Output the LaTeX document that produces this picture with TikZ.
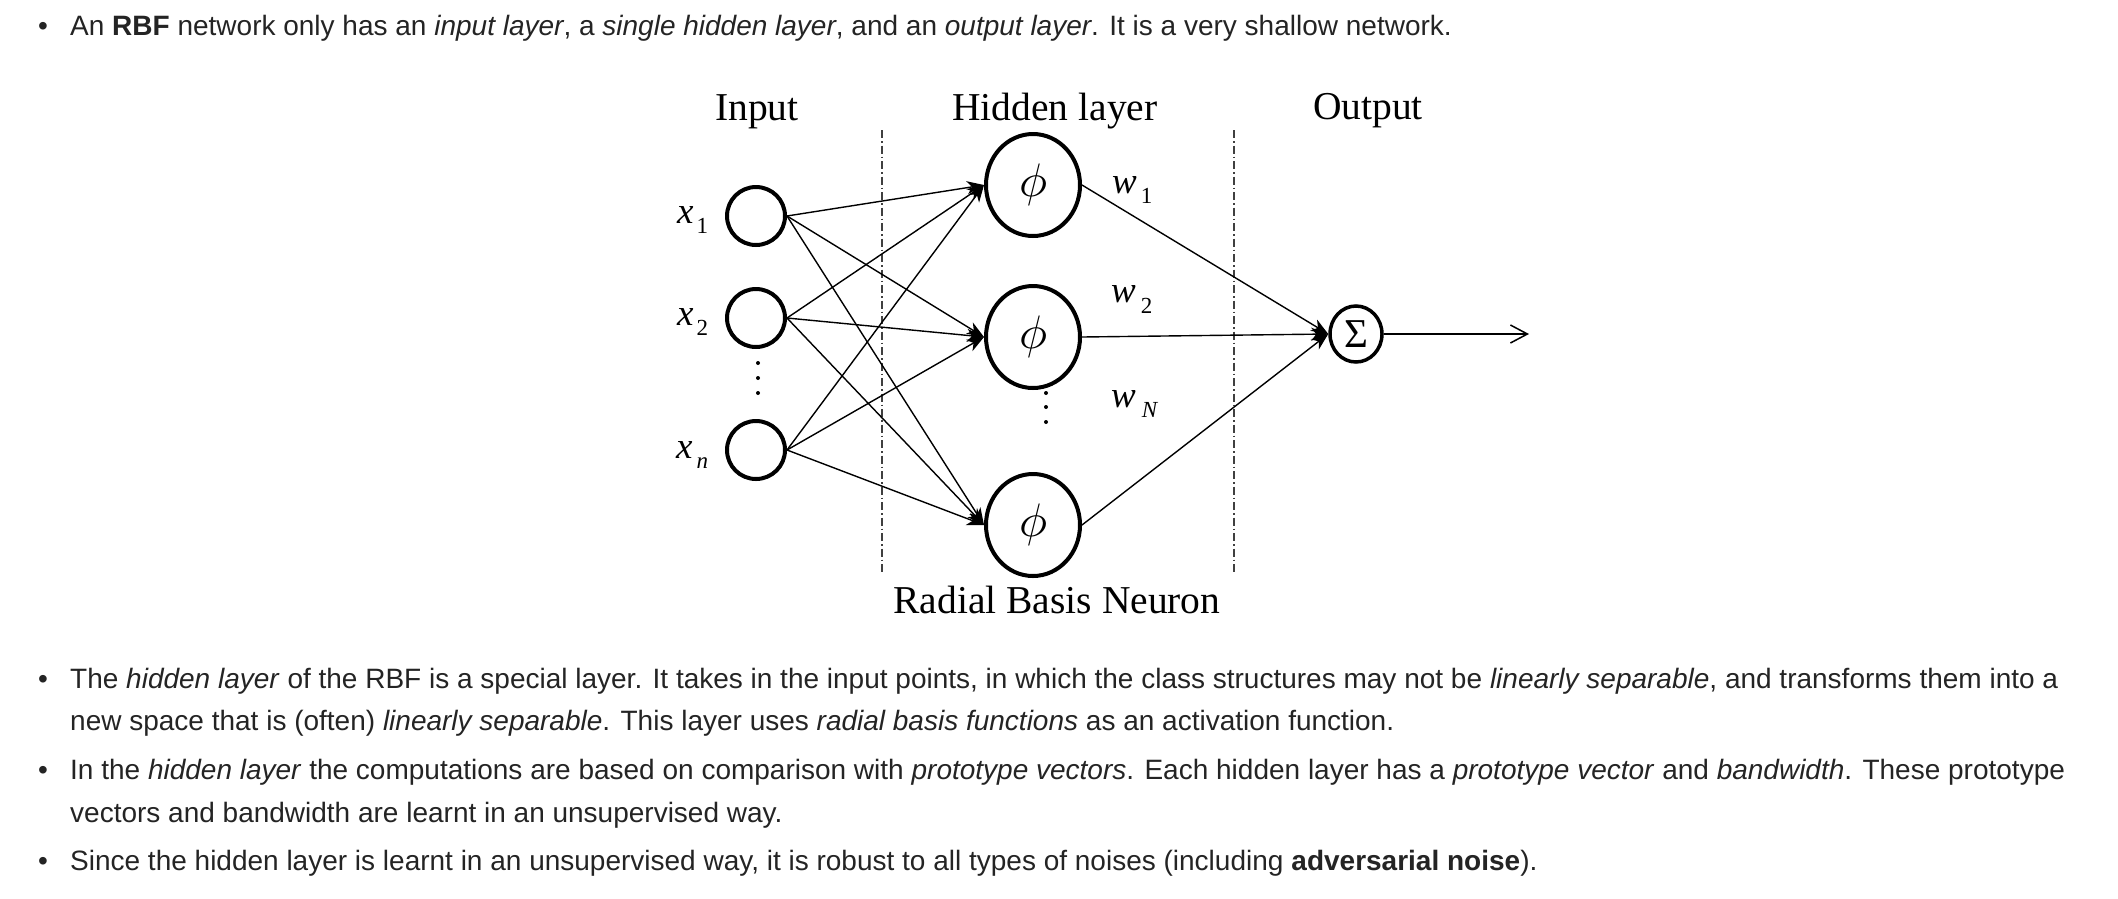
\documentclass[tikz,border=0pt]{standalone}
\usepackage{graphicx}
\usepackage{fontspec}
\setmainfont{Liberation Sans}
\newfontfamily\tnr{Liberation Serif}
\usetikzlibrary{arrows.meta,shapes.geometric}
\definecolor{txtc}{HTML}{242424}
\newcommand{\bigphi}{\scalebox{4.7}{$\phi$}}
\begin{document}
\begin{tikzpicture}[x=1pt,y=-1pt,
  txt/.style={anchor=base west, inner sep=0pt, text=txtc, font=\fontsize{28}{32}\selectfont},
  bul/.style={anchor=base, inner sep=0pt, text=txtc, font=\fontsize{28}{32}\selectfont},
  inp/.style={circle, draw, line width=4pt, minimum size=58pt, inner sep=0pt},
  hid/.style={ellipse, draw, line width=4pt, minimum width=94pt, minimum height=102pt, inner sep=0pt},
  sumn/.style={ellipse, draw, line width=3.5pt, minimum width=52pt, minimum height=56pt, inner sep=0pt, font=\tnr\fontsize{41}{41}\selectfont},
  head/.style={anchor=base, inner sep=0pt, font=\tnr\fontsize{39.5}{40}\selectfont},
  lbl/.style={anchor=base west, inner sep=0pt, font=\tnr\fontsize{37}{37}\selectfont},
  conn/.style={line width=1.4pt, -{Stealth[length=17pt,width=13pt,inset=5pt]}},
  sepline/.style={line width=1.3pt, draw=black!75, dash pattern=on 8pt off 3pt on 1.5pt off 3pt},
  dotf/.style={fill=black}
]
\useasboundingbox (0,0) rectangle (2118,898);
\fill[white] (0,0) rectangle (2118,898);

% ---------- text ----------
\node[bul] (u1) at (43,35) {•};
\node[txt] (t1) at (70,35) {An \textbf{RBF} network only has an \textit{input layer}, a \textit{single hidden layer}, and an \textit{output layer}. It is a very shallow network.};
\node[bul] (u2) at (43,688) {•};
\node[txt] (t2) at (70,688) {The \textit{hidden layer} of the RBF is a special layer. It takes in the input points, in which the class structures may not be \textit{linearly separable}, and transforms them into a};
\node[txt] (t3) at (70,730) {new space that is (often) \textit{linearly separable}. This layer uses \textit{radial basis functions} as an activation function.};
\node[bul] (u3) at (43,779) {•};
\node[txt] (t4) at (70,779) {In the \textit{hidden layer} the computations are based on comparison with \textit{prototype vectors}. Each hidden layer has a \textit{prototype vector} and \textit{bandwidth}. These prototype};
\node[txt] (t5) at (70,822) {vectors and bandwidth are learnt in an unsupervised way.};
\node[bul] (u4) at (43,870) {•};
\node[txt] (t6) at (70,870) {Since the hidden layer is learnt in an unsupervised way, it is robust to all types of noises (including \textbf{adversarial noise}).};

% ---------- headings ----------
\node[head] (hIn) at (757,120) {Input};
\node[head] (hHid) at (1055,120) {Hidden layer};
\node[head] (hOut) at (1368,119) {Output};
\node[head] (hRBN) at (1057,613) {Radial Basis Neuron};

% ---------- separators ----------
\coordinate (s1t) at (882,130); \coordinate (s1b) at (882,572);
\coordinate (s2t) at (1234,130); \coordinate (s2b) at (1234,572);
\draw[sepline] (s1t) -- (s1b);
\draw[sepline] (s2t) -- (s2b);

% ---------- nodes ----------
\node[inp] (x1) at (756,216) {};
\node[inp] (x2) at (756,318) {};
\node[inp] (xn) at (756,450) {};
\node[hid] (h1) at (1033,185) {\bigphi};
\node[hid] (h2) at (1033,337) {\bigphi};
\node[hid] (h3) at (1033,525) {\bigphi};
\node[sumn] (sg) at (1356,334) {Σ};
\coordinate (outEnd) at (1529,334);

% ---------- labels ----------
\node[lbl] (lx1) at (677,223) {\itshape x\hspace{3pt}\raisebox{-10pt}{\upshape\fontsize{23}{23}\selectfont 1}};
\node[lbl] (lx2) at (677,325) {\itshape x\hspace{3pt}\raisebox{-10pt}{\upshape\fontsize{23}{23}\selectfont 2}};
\node[lbl] (lxn) at (676,458) {\itshape x\hspace{4pt}\raisebox{-10pt}{\fontsize{23}{23}\selectfont n}};
\node[lbl] (lw1) at (1112,193) {\itshape w\hspace{4pt}\raisebox{-10pt}{\upshape\fontsize{23}{23}\selectfont 1}};
\node[lbl] (lw2) at (1111,302) {\itshape w\hspace{5pt}\raisebox{-11pt}{\upshape\fontsize{23}{23}\selectfont 2}};
\node[lbl] (lwN) at (1111,407) {\itshape w\hspace{6pt}\raisebox{-10pt}{\fontsize{23}{23}\selectfont N}};

% ---------- dots ----------
\fill[dotf] (758,363) circle (2pt) (758,378) circle (2pt) (758,393) circle (2pt);
\fill[dotf] (1046,393) circle (2pt) (1046,407) circle (2pt) (1046,422) circle (2pt);

% ---------- connectors ----------
\foreach \i in {x1,x2,xn}{
  \foreach \h in {h1,h2,h3}{
    \draw[conn] (\i.east) -- (\h.west);
  }
}
\foreach \h in {h1,h2,h3}{
  \draw[conn] (\h.east) -- (sg.west);
}
\draw[line width=1.5pt, -{Straight Barb[length=17pt,width=18pt]}] (sg.east) -- (outEnd);
\end{tikzpicture}
\end{document}
